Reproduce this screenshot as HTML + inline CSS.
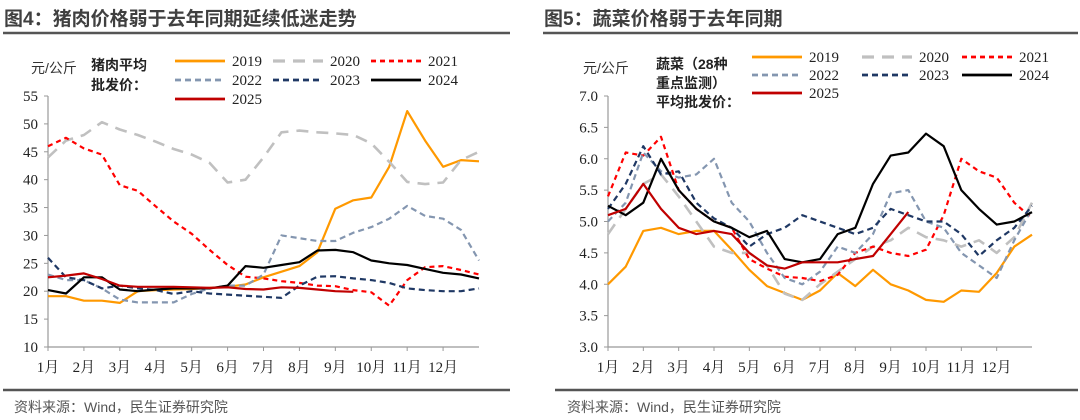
<!DOCTYPE html>
<html><head><meta charset="utf-8"><style>
body{margin:0;background:#fff;}
svg{display:block;font-family:"Liberation Serif","Noto Serif CJK SC",serif;}
.t{font-family:"Liberation Sans","Noto Sans CJK SC",sans-serif;font-weight:bold;fill:#404040;font-size:19px;}
.src{font-family:"Liberation Sans","Noto Sans CJK SC",sans-serif;fill:#555;font-size:14px;}
.cj{font-family:"Liberation Sans","Noto Sans CJK SC",sans-serif;font-size:14px;fill:#222;}
</style></head><body>
<svg id="c" width="1080" height="420">
<text class="t" x="4" y="25">图4：猪肉价格弱于去年同期延续低迷走势</text>
<line x1="3" y1="33" x2="510" y2="33" stroke="#555" stroke-width="2.5"/>
<text class="t" x="544" y="25">图5：蔬菜价格弱于去年同期</text>
<line x1="543" y1="33" x2="1078" y2="33" stroke="#555" stroke-width="2.5"/>
<line x1="3" y1="390" x2="510" y2="390" stroke="#555" stroke-width="2.5"/>
<line x1="555" y1="390" x2="1078" y2="390" stroke="#555" stroke-width="2.5"/>
<text class="src" x="14" y="412">资料来源：Wind，民生证券研究院</text>
<text class="src" x="567" y="412">资料来源：Wind，民生证券研究院</text>
<text class="cj" x="31" y="73" style="font-weight:normal;fill:#333">元/公斤</text>
<text class="cj" x="91" y="70" style="font-weight:bold">猪肉平均</text>
<text class="cj" x="91" y="90" style="font-weight:bold">批发价：</text>
<text class="cj" x="583" y="73" style="font-weight:normal;fill:#333">元/公斤</text>
<text class="cj" x="656" y="69" style="font-weight:bold">蔬菜（28种</text>
<text class="cj" x="656" y="88" style="font-weight:bold">重点监测）</text>
<text class="cj" x="656" y="107" style="font-weight:bold">平均批发价：</text>
</svg>
<script>
const months=["1月","2月","3月","4月","5月","6月","7月","8月","9月","10月","11月","12月"];
const years=["2019","2020","2021","2022","2023","2024","2025"];
const porkTicks=[10,15,20,25,30,35,40,45,50,55];
const vegTicks=[3.0,3.5,4.0,4.5,5.0,5.5,6.0,6.5,7.0];
// values sampled every half month
const pork2019=[19.1,19.1,18.3,18.3,17.9,20.0,20.2,20.3,20.4,20.6,20.8,21.2,22.5,23.5,24.5,27,34.8,36.3,36.8,42.3,52.3,47,42.3,43.5,43.3];
const pork2020=[44,47,48,50.3,49,48,46.8,45.5,44.5,43,39.5,40,44,48.5,48.8,48.5,48.3,48,46.5,43.2,39.6,39.2,39.5,43.5,45];
const pork2021=[46,47.5,45.6,44.5,39,38,35.2,32.5,30.3,27.4,24.7,22.6,22.3,21.8,21.5,21,20.9,20.2,19.8,17.4,22,24.3,24.5,23.8,23];
const pork2022=[23,22,22,20.5,18.5,18,18,18,19.5,20.5,21,21,23,30,29.5,29,29,30.5,31.5,33,35.3,33.5,33,31,25.5];
const pork2023=[26,22.5,22,20.5,21,20.5,20.2,19.5,20,19.6,19.4,19.2,19,18.8,21,22.6,22.7,22.3,22,21.5,20.5,20.2,20,20,20.5];
const pork2024=[20.2,19.6,22.5,22.5,20.3,20,20.3,20.5,20.5,20.5,21,24.5,24.2,24.7,25.2,27.3,27.4,27,25.5,25,24.7,24,23.3,23,22.3];
const pork2025=[22.5,22.8,23.2,22.2,21,20.8,20.8,20.8,20.7,20.6,20.7,20.4,20.3,20.7,20.6,20.3,20.0,19.9];
const veg2019=[4.0,4.28,4.85,4.9,4.8,4.85,4.85,4.55,4.23,3.97,3.86,3.75,3.9,4.18,3.97,4.23,4.0,3.9,3.75,3.72,3.9,3.88,4.18,4.6,4.79];
const veg2020=[4.8,5.2,5.6,5.75,5.4,5.0,4.6,4.5,4.5,4.3,3.85,3.75,4.0,4.2,4.4,4.6,4.7,4.9,4.75,4.7,4.6,4.7,4.5,4.75,5.3];
const veg2021=[5.4,6.1,6.05,6.35,5.5,5.2,5.0,4.9,4.4,4.25,4.12,4.1,4.05,4.15,4.5,4.6,4.5,4.45,4.55,5.1,6.0,5.8,5.7,5.3,5.05];
const veg2022=[5.0,5.3,6.1,5.8,5.7,5.75,6.0,5.3,5.0,4.5,4.1,4.0,4.2,4.6,4.5,4.8,5.45,5.5,5.0,4.9,4.5,4.3,4.1,4.7,5.2];
const veg2023=[5.2,5.6,6.2,5.75,5.8,5.3,5.05,4.9,4.6,4.8,4.9,5.1,5.0,4.9,4.8,4.9,5.2,5.1,5.0,5.0,4.8,4.45,4.7,4.9,5.25];
const veg2024=[5.25,5.1,5.3,6.0,5.5,5.2,5.0,4.9,4.75,4.85,4.4,4.35,4.4,4.8,4.9,5.6,6.05,6.1,6.4,6.2,5.5,5.2,4.95,5.0,5.15];
const veg2025=[5.1,5.2,5.6,5.2,4.9,4.8,4.85,4.8,4.5,4.3,4.25,4.35,4.35,4.35,4.4,4.45,4.8,5.15];

const NS="http://www.w3.org/2000/svg";
const svg=document.getElementById('c');
function mk(tag,attrs,txt){const e=document.createElementNS(NS,tag);for(const k in attrs)e.setAttribute(k,attrs[k]);if(txt!==undefined)e.textContent=txt;svg.appendChild(e);return e;}
const styles=[
 {c:"#FF9900",d:"",w:2.2},{c:"#C0C0C0",d:"12,8",w:2.6},{c:"#FF0000",d:"5,4",w:2.2},
 {c:"#8496B0",d:"6,4",w:2.2},{c:"#1F3864",d:"6,4",w:2.2},{c:"#000000",d:"",w:2.2},{c:"#C00000",d:"",w:2.2}];

function chart(o){
  const x=t=>o.x0+t*(o.x1-o.x0)/12;
  const y=v=>o.y1-(v-o.vmin)*(o.y1-o.y0)/(o.vmax-o.vmin);
  const ax=mk('line',{x1:o.x0,y1:o.y0,x2:o.x0,y2:o.y1,stroke:'#999','stroke-width':1.2});
  
  
  const bx=mk('line',{x1:o.x0,y1:o.y1,x2:o.x1,y2:o.y1,stroke:'#999','stroke-width':1.2});
  
  
  o.ticks.forEach(v=>{
    mk('line',{x1:o.x0-4,y1:y(v),x2:o.x0,y2:y(v),stroke:'#999'});
    const tl=mk('text',{x:o.x0-10,y:y(v)+5,'text-anchor':'end','font-size':15,fill:'#222'},o.fmt(v));
    
    
  });
  months.forEach((m,i)=>{
    mk('line',{x1:x(i),y1:o.y1,x2:x(i),y2:o.y1+4,stroke:'#999'});
    const ml=mk('text',{x:x(i),y:o.y1+25,'text-anchor':'middle','font-size':15,fill:'#222'},m);
    
    
  });
  o.series.forEach((s,k)=>{
    const st=styles[k];
    const pts=s.map((v,i)=>x(i*0.5).toFixed(1)+','+y(v).toFixed(1)).join(' ');
    const pl=mk('polyline',{points:pts,fill:'none',stroke:st.c,'stroke-width':st.w,'stroke-dasharray':st.d,'stroke-linejoin':'round'});
    
    
  });
  // legend
  o.leg.forEach((L,k)=>{
    const st=styles[k];
    const ll=mk('line',{x1:L[0],y1:L[1],x2:L[0]+50,y2:L[1],stroke:st.c,'stroke-width':st.w+0.6,'stroke-dasharray':st.d});
    
    
    const lt=mk('text',{x:L[0]+57,y:L[1]+5,'font-size':15,fill:'#222'},years[k]);
    
    
  });
}
chart({p:'pork',x0:48,x1:479,y0:96,y1:347,vmin:10,vmax:55,ticks:porkTicks,fmt:v=>String(v),
  series:[pork2019,pork2020,pork2021,pork2022,pork2023,pork2024,pork2025],
  leg:[[175,61],[273,61],[371,61],[175,80],[273,80],[371,80],[175,99]]});
chart({p:'veg',x0:608,x1:1032,y0:96,y1:347,vmin:3,vmax:7,ticks:vegTicks,fmt:v=>v.toFixed(1),
  series:[veg2019,veg2020,veg2021,veg2022,veg2023,veg2024,veg2025],
  leg:[[752,57],[862,57],[962,57],[752,75],[862,75],[962,75],[752,93]]});
</script>
</body></html>
